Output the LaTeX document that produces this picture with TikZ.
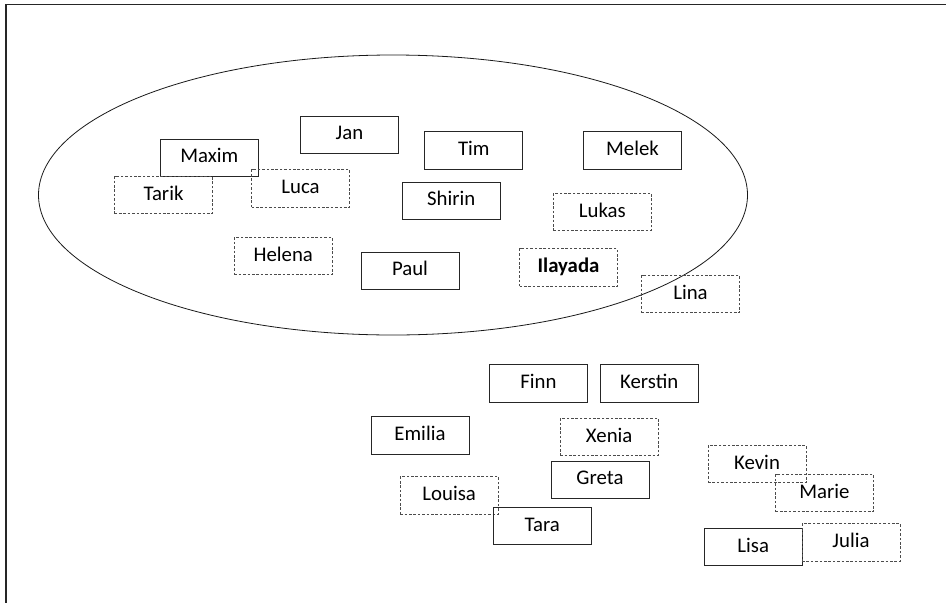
\documentclass[tikz,border=0pt]{standalone}
\usepackage{fontspec}
\setmainfont{Carlito}
\usetikzlibrary{shapes.geometric}
\begin{document}
\begin{tikzpicture}[x=1pt,y=-1pt,
  namebox/.style={draw=black!85, line width=0.9pt, minimum width=98pt, minimum height=37.3pt,
    inner sep=0pt, text height=13.2pt, text depth=3pt, font=\fontsize{20.8}{24}\selectfont},
  dotbox/.style={namebox, draw=black!70, dash pattern=on 2.6pt off 1.8pt}]
\useasboundingbox (0,0) rectangle (946,603);
\draw[black!85, line width=1.6pt] (946,4.3) -- (5.8,4.3) -- (5.8,603);
\node[draw=black!90, line width=0.8pt, ellipse, minimum width=709pt, minimum height=280pt, inner sep=0pt] (group) at (393,195) {};
\node[namebox] (maxim) at (209.3,157.8) {Maxim};
\node[namebox] (jan) at (349.5,134.7) {Jan};
\node[namebox] (tim) at (473.8,150.5) {Tim};
\node[namebox] (melek) at (632.5,150.5) {Melek};
\node[dotbox] (tarik) at (163.5,195) {Tarik};
\node[dotbox] (luca) at (300.5,188.3) {Luca};
\node[namebox] (shirin) at (451.2,200.8) {Shirin};
\node[dotbox] (lukas) at (602.3,212) {Lukas};
\node[dotbox] (helena) at (283.3,256.2) {Helena};
\node[namebox] (paul) at (410,270.7) {Paul};
\node[dotbox, font=\fontsize{20.8}{24}\selectfont\bfseries] (ilayada) at (568.5,267.5) {Ilayada};
\node[dotbox] (lina) at (690.5,294.2) {Lina};
\node[namebox] (finn) at (538.5,383.5) {Finn};
\node[namebox] (kerstin) at (649.2,383.5) {Kerstin};
\node[namebox] (emilia) at (420,435.5) {Emilia};
\node[dotbox] (xenia) at (609.2,437) {Xenia};
\node[namebox] (greta) at (600,479.7) {Greta};
\node[dotbox] (louisa) at (449.2,495.3) {Louisa};
\node[namebox] (tara) at (542.2,526.2) {Tara};
\node[dotbox] (kevin) at (757,464.2) {Kevin};
\node[dotbox] (marie) at (824.5,493.2) {Marie};
\node[namebox] (lisa) at (753.3,547) {Lisa};
\node[dotbox] (julia) at (851,542.3) {Julia};
\end{tikzpicture}
\end{document}
